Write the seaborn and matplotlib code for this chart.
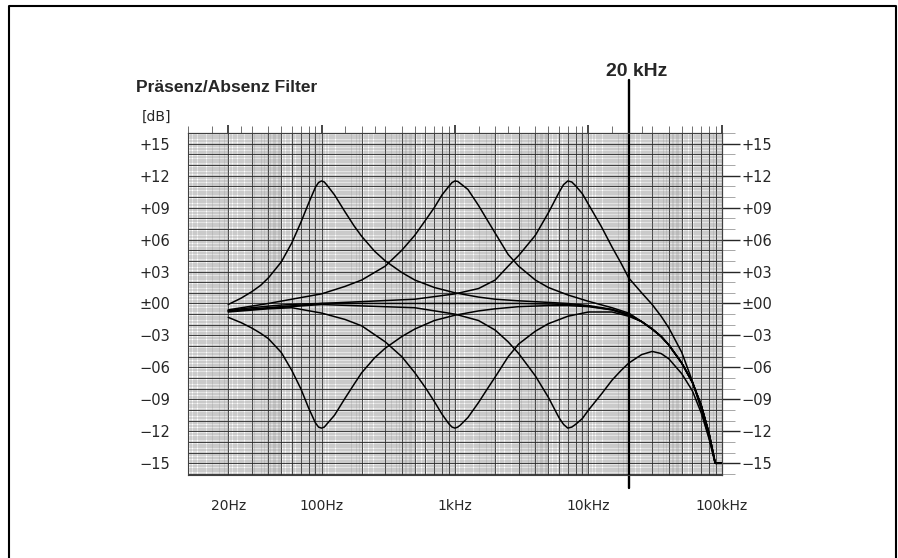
import numpy as np
import pandas as pd
import seaborn as sns
import matplotlib.pyplot as plt
from matplotlib.lines import Line2D
from matplotlib.ticker import FixedLocator, NullFormatter

# common roll-off above 20 kHz for the low/mid band curves
tail_hz = [25000, 30000, 35000, 40000, 50000, 60000, 70000, 80000, 89000, 100000]
tail_db = [-1.7, -2.4, -3.1, -3.9, -5.6, -7.4, -9.6, -12.2, -15.0, -15.0]

flat_hz = [20, 25, 30, 40, 50, 70, 100, 300, 1000, 3000, 5000, 7000, 10000, 15000, 20000]
flat_db = [-0.7, -0.5, -0.4, -0.25, -0.15, -0.05, 0.0, 0.0, 0.0, 0.0, -0.05, -0.1, -0.25, -0.6, -1.1]

lo_hz = [20, 25, 30, 35, 40, 50, 60, 70, 80, 90, 95, 100, 105, 110, 125, 150, 175, 200, 250, 300,
         400, 500, 700, 1000, 1500, 2000, 3000, 5000, 7000, 10000, 15000, 20000]
boost_lo_db = [-0.1, 0.5, 1.1, 1.7, 2.4, 3.9, 5.7, 7.6, 9.4, 10.9, 11.35, 11.5, 11.4, 11.1, 10.2, 8.6, 7.3, 6.3, 4.9, 4.0,
               2.9, 2.2, 1.5, 1.0, 0.6, 0.4, 0.25, 0.1, 0.0, -0.2, -0.55, -1.0]
cut_lo_db = [-1.3, -1.8, -2.3, -2.8, -3.3, -4.6, -6.3, -8.0, -9.8, -11.2, -11.6, -11.7, -11.6, -11.3, -10.5, -8.9, -7.6, -6.5, -5.1, -4.2,
             -3.1, -2.4, -1.6, -1.1, -0.7, -0.5, -0.3, -0.2, -0.2, -0.3, -0.6, -1.1]

mid_hz = [20, 40, 60, 100, 150, 200, 300, 400, 500, 600, 700, 800, 900, 950, 1000, 1050, 1100, 1250, 1500,
          1750, 2000, 2500, 3000, 4000, 5000, 7000, 10000, 15000, 20000]
boost_mid_db = [-0.6, 0.0, 0.4, 0.9, 1.6, 2.2, 3.5, 5.0, 6.4, 7.8, 9.0, 10.2, 11.0, 11.35, 11.5, 11.45, 11.25, 10.7, 9.2,
                7.8, 6.6, 4.6, 3.5, 2.2, 1.5, 0.8, 0.2, -0.4, -0.9]
cut_mid_db = [-0.8, -0.5, -0.4, -0.9, -1.5, -2.1, -3.6, -5.0, -6.5, -7.9, -9.2, -10.4, -11.3, -11.6, -11.7, -11.6, -11.4, -10.7, -9.3,
              -8.0, -6.9, -5.0, -3.8, -2.6, -1.9, -1.2, -0.8, -0.8, -1.2]

hi_hz = [20, 100, 500, 1000, 1500, 2000, 2500, 3000, 4000, 5000, 6000, 6500, 7000, 7500, 8000, 9000, 10000, 12500,
         15000, 17500, 20000, 25000, 30000, 35000, 40000, 50000, 60000, 70000, 80000, 89000, 100000]
boost_hi_db = [-0.7, 0.0, 0.4, 0.9, 1.4, 2.2, 3.5, 4.5, 6.4, 8.5, 10.4, 11.15, 11.5, 11.4, 11.05, 10.3, 9.3, 7.2,
               5.3, 3.8, 2.4, 1.0, -0.1, -1.2, -2.3, -4.6, -7.3, -10.0, -12.6, -15.0, -15.0]
cut_hi_db = [-0.7, -0.1, -0.4, -1.0, -1.6, -2.5, -3.6, -4.7, -6.8, -8.8, -10.7, -11.35, -11.7, -11.6, -11.35, -10.8, -10.0, -8.5,
             -7.2, -6.3, -5.6, -4.8, -4.5, -4.7, -5.2, -6.6, -8.2, -10.3, -12.7, -15.0, -15.0]

y_ticks = [15, 12, 9, 6, 3, 0, -3, -6, -9, -12, -15]
y_labels = ['+15', '+12', '+09', '+06', '+03', '±00', '−03', '−06', '−09', '−12', '−15']
x_ticks = [20, 100, 1000, 10000, 100000]
x_labels = ['20Hz', '100Hz', '1kHz', '10kHz', '100kHz']

curves = {
    'flat': (flat_hz + tail_hz, flat_db + tail_db),
    'boost_lo': (lo_hz + tail_hz, boost_lo_db + tail_db),
    'cut_lo': (lo_hz + tail_hz, cut_lo_db + tail_db),
    'boost_mid': (mid_hz + tail_hz, boost_mid_db + tail_db),
    'cut_mid': (mid_hz + tail_hz, cut_mid_db + tail_db),
    'boost_hi': (hi_hz, boost_hi_db),
    'cut_hi': (hi_hz, cut_hi_db),
}
df = pd.concat([pd.DataFrame({'curve': k, 'hz': v[0], 'db': v[1]}) for k, v in curves.items()])

sns.set_style('white')
plt.rcParams['font.family'] = ['DejaVu Sans']

fig = plt.figure(figsize=(8.98, 5.58), dpi=100)
ax = fig.add_axes([188 / 898, 83 / 558, 534 / 898, 342 / 558])
ax.set_xscale('log')
ax.set_xlim(10, 100000)
ax.set_ylim(-16.1, 16.0)

# chart paper grid (log paper subdivisions)
xt = ax.get_xaxis_transform()
yt = ax.get_yaxis_transform()
fine_x = []
for dec in [10, 100, 1000, 10000]:
    fine_x += list(dec * np.arange(1, 2, 0.05)) + list(dec * np.arange(2, 5, 0.1)) + list(dec * np.arange(5, 10, 0.25))
mid_x = [m * dec for dec in [10, 100, 1000, 10000] for m in range(1, 10)]
ax.vlines(fine_x, 0, 1, transform=xt, color='0.55', lw=0.35, zorder=0)
ax.vlines(mid_x, 0, 1, transform=xt, color='0.15', lw=0.6, zorder=0)
ax.hlines(np.arange(-16, 16.01, 0.25), 0, 1, transform=yt, color='0.5', lw=0.35, zorder=0)
ax.hlines(np.arange(-16, 17), 0, 1, transform=yt, color='0.15', lw=0.6, zorder=0)

sns.lineplot(data=df, x='hz', y='db', units='curve', estimator=None, sort=False,
             color='black', lw=1.1, legend=False, ax=ax)
ax.set_xlabel('')
ax.set_ylabel('')

minor_x = [m * dec for dec in [10, 100, 1000, 10000] for m in [1, 1.5, 2, 2.5, 3, 4, 5, 6, 7, 8, 9]]
minor_x = [v for v in minor_x if v not in x_ticks]

ax.set_xticks(x_ticks)
ax.set_xticklabels(x_labels)
ax.xaxis.set_minor_locator(FixedLocator(minor_x))
ax.xaxis.set_minor_formatter(NullFormatter())
ax.tick_params(axis='x', which='major', length=9, width=1.2, pad=8, labelsize=10)
ax.tick_params(axis='x', which='minor', length=5, width=0.6, color='0.35')

ax.set_yticks(y_ticks)
ax.set_yticklabels(y_labels)
ax.yaxis.set_minor_locator(FixedLocator(np.arange(-16, 17)))
ax.tick_params(axis='y', which='major', length=12, width=1.0, pad=1, labelsize=10.5)
ax.tick_params(axis='y', which='minor', length=9, width=0.6, color='0.6')

top = ax.secondary_xaxis('top')
top.set_xticks(x_ticks)
top.set_xticklabels([])
top.xaxis.set_minor_locator(FixedLocator(minor_x))
top.xaxis.set_minor_formatter(NullFormatter())
top.tick_params(which='major', length=6, width=1.2)
top.tick_params(which='minor', length=5, width=0.6, color='0.35')

right = ax.secondary_yaxis('right')
right.set_yticks(y_ticks)
right.set_yticklabels(y_labels)
right.yaxis.set_minor_locator(FixedLocator(np.arange(-16, 17)))
right.tick_params(which='major', length=13, width=1.0, pad=1, labelsize=10.5)
right.tick_params(which='minor', length=9, width=0.6, color='0.6')

for a in [ax, top, right]:
    for s in a.spines.values():
        s.set_color('0.25')
        s.set_linewidth(0.8)

# 20 kHz marker
ax.axvline(20000, ymin=-0.038, ymax=1.155, clip_on=False, color='black', lw=1.7)
fig.text(637 / 898, 1 - 76 / 558, '20 kHz', ha='center', va='baseline', fontsize=14,
         weight='bold', family=['Liberation Sans', 'DejaVu Sans'])

fig.text(136 / 898, 1 - 92 / 558, 'Präsenz/Absenz Filter', ha='left', va='baseline', fontsize=12.5,
         weight='bold', family=['Liberation Sans', 'DejaVu Sans'])
fig.text(142 / 898, 1 - 117 / 558, '[dB]', ha='left', va='center', fontsize=10)

fig.add_artist(Line2D([0.01, 0.01, 0.9978, 0.9978], [0, 0.989, 0.989, 0],
                      transform=fig.transFigure, color='black', lw=1.5))

fig.savefig('out.png', dpi=100)
